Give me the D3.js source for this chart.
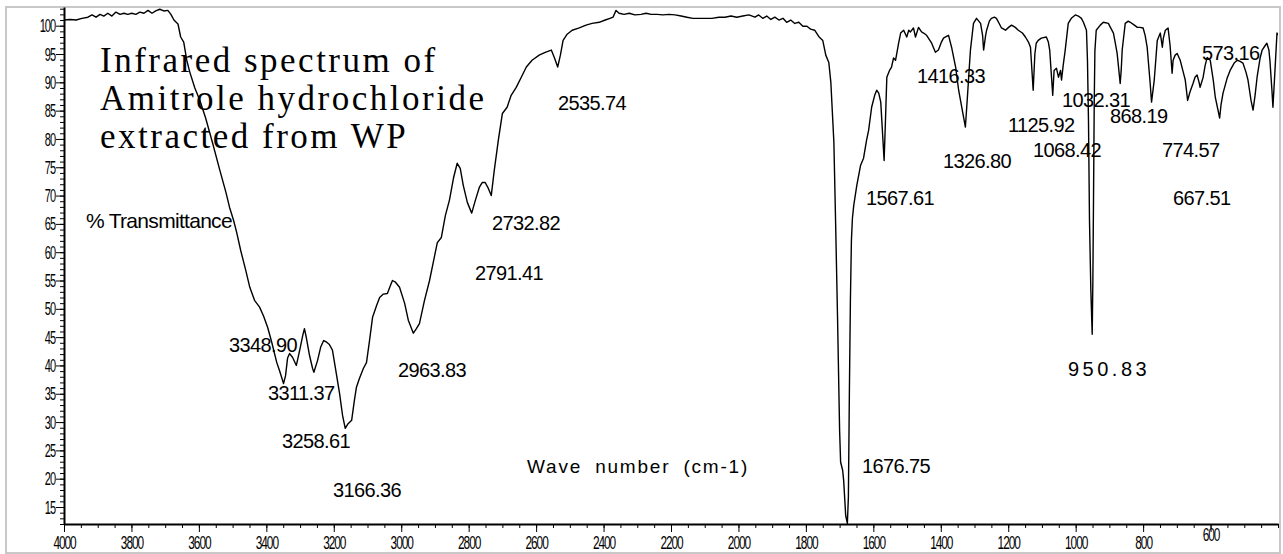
<!DOCTYPE html>
<html>
<head>
<meta charset="utf-8">
<title>Infrared spectrum of Amitrole hydrochloride</title>
<script src="https://d3js.org/d3.v7.min.js"></script>
<style>
    body { margin: 0; background: #fff; }
    svg text { font-family: "Liberation Sans", Arial, sans-serif; fill: #000; }
</style>
</head>
<body>
<svg id="chart" width="1283" height="554"></svg>
<script>
    // spectrum: [wavenumber cm-1, %T]
    const spectrumHigh = [
        [4000,101.0],[3982,101.1],[3964,101.0],[3947,101.3],[3929,101.5],[3917,101.9],[3905,101.5],[3893,102.0],
        [3882,101.7],[3870,102.2],[3858,101.7],[3846,102.4],[3834,102.0],[3822,102.2],[3811,102.0],[3799,102.2],
        [3787,102.0],[3775,102.4],[3763,102.2],[3751,102.7],[3739,102.2],[3728,102.6],[3716,102.9],[3704,102.6],
        [3692,102.7],[3683,102.0],[3674,101.0],[3662,100.3],[3654,98.0],[3645,97.1],[3636,93.9],[3627,91.8],
        [3612,89.0],[3597,86.8],[3580,83.7],[3559,79.2],[3538,74.5],[3520,70.6],[3509,67.9],[3497,65.6],
        [3488,63.5],[3476,60.3],[3461,56.8],[3449,53.8],[3435,51.5],[3420,50.3],[3408,48.7],[3396,46.7],
        [3384,44.1],[3369,40.5],[3361,39.1],[3349,36.8],[3343,38.2],[3337,41.3],[3331,42.1],[3322,41.4],
        [3311,40.0],[3301,42.7],[3292,45.3],[3287,46.5],[3281,44.8],[3272,41.8],[3263,39.5],[3259,38.8],
        [3248,40.9],[3239,43.2],[3230,44.4],[3221,44.1],[3213,43.7],[3204,42.7],[3195,39.5],[3183,35.1],
        [3174,31.2],[3166,28.9],[3159,29.6],[3147,30.3],[3139,33.8],[3133,36.1],[3124,37.7],[3112,39.5],
        [3103,40.5],[3094,44.4],[3085,48.5],[3073,50.6],[3064,52.0],[3053,52.6],[3041,52.7],[3032,54.1],
        [3026,55.0],[3017,54.7],[3005,53.8],[2990,51.0],[2979,48.0],[2964,45.7],[2955,46.5],[2946,47.4],
        [2931,51.5],[2916,55.0],[2905,58.2],[2893,61.7],[2881,62.6],[2869,66.5],[2857,69.2],[2845,73.1],
        [2834,75.7],[2825,74.8],[2816,71.8],[2804,68.8],[2791,66.9],[2780,69.2],[2768,71.5],[2760,72.3],
        [2751,72.3],[2742,71.3],[2733,70.0],[2724,74.5],[2712,79.8],[2700,84.5],[2686,85.6],[2674,87.7],
        [2659,89.1],[2644,90.9],[2629,92.7],[2612,93.9],[2591,94.8],[2573,95.3],[2555,95.7],[2546,94.4],
        [2536,92.7],[2528,94.8],[2520,97.4],[2508,98.5],[2493,99.2],[2472,99.6],[2452,100.1],[2434,100.4],
        [2413,100.6]
    ];
    const spectrumMid = [
        [2395,101.0],[2381,101.3],[2372,101.5],[2363,102.7],[2354,102.2],[2339,102.0],[2324,102.2],[2307,101.9],
        [2289,102.0],[2274,102.2],[2259,102.0],[2241,102.0],[2224,101.9],[2206,102.0],[2188,101.9],[2170,101.7],
        [2153,101.5],[2135,101.3],[2117,101.3],[2099,101.3],[2079,101.3],[2058,101.5],[2040,101.5],[2022,101.7],
        [2005,101.5],[1987,101.7],[1969,101.9],[1951,101.5],[1940,101.9],[1928,101.3],[1916,101.7],[1904,101.1],
        [1892,101.5],[1880,101.0],[1868,101.3],[1857,100.6],[1845,101.0],[1833,100.4],[1821,100.6],[1809,99.9],
        [1797,99.9],[1786,99.4],[1774,99.2],[1762,98.1],[1750,97.4],[1741,94.8],[1732,93.5],[1726,90.0],
        [1717,79.4],[1712,65.6],[1706,48.0],[1700,28.5],[1697,22.9],[1691,21.5],[1688,19.7],[1682,13.5],
        [1677,12.1],[1674,16.7],[1671,35.4],[1668,51.5],[1665,62.1],[1662,66.0],[1658,68.3],[1649,71.8],
        [1638,75.3],[1629,76.6],[1620,79.8],[1614,81.5],[1605,85.6],[1596,87.7],[1590,88.6],[1584,88.1],
        [1578,86.5],[1568,76.2],[1564,83.3],[1560,90.9],[1552,92.1],[1546,92.7],[1540,94.3],[1534,93.9],
        [1525,96.9],[1519,98.7],[1510,99.2],[1501,98.0],[1495,99.2],[1490,98.9],[1481,99.6],[1475,98.0],
        [1466,99.7],[1457,98.9],[1451,98.7],[1442,98.3],[1427,96.9],[1416,95.3],[1407,95.7]
    ];
    const spectrumLow = [
        [1398,97.1],[1392,97.8],[1383,98.1],[1377,98.3],[1368,96.2],[1356,92.7],[1347,88.6],[1335,84.7],
        [1327,82.1],[1321,87.4],[1316,92.1],[1312,95.7],[1303,100.4],[1294,101.3],[1282,100.4],[1276,98.3],
        [1273,95.7],[1267,98.3],[1264,99.2],[1256,100.8],[1250,101.3],[1241,101.5],[1235,101.3],[1226,100.3],
        [1220,99.6],[1208,99.2],[1199,99.7],[1190,100.1],[1179,99.7],[1170,99.2],[1158,98.7],[1149,98.0],
        [1140,97.1],[1134,96.2],[1126,88.6],[1121,95.0],[1117,96.9],[1111,97.4],[1102,97.8],[1087,98.0],
        [1081,97.1],[1077,95.7],[1068,87.7],[1064,92.1],[1057,92.5],[1051,90.9],[1045,92.1],[1042,90.4],
        [1037,93.0],[1031,95.7],[1022,100.4],[1013,101.3],[1001,101.9],[992,101.7],[983,101.3],[977,100.6],
        [968,99.2],[965,93.9],[962,83.3],[959,65.6],[955,53.3],[951,45.5],[949,55.0],[947,70.0],
        [945,86.0],[943,95.5],[939,99.2],[927,100.1],[918,100.6],[903,100.4],[897,99.7],[888,98.7],
        [883,97.1],[877,95.1],[868,89.8],[865,92.1],[862,95.7],[853,100.4],[844,100.8],[838,100.6],
        [826,100.1],[817,99.7],[809,99.7],[800,99.6],[794,98.3],[788,96.2],[779,89.8],[775,86.5],
        [767,90.4],[764,92.7],[758,97.4],[749,98.7],[743,96.2],[740,97.8],[734,99.2],[726,99.6],
        [720,96.5],[714,91.6],[711,93.9],[705,94.8],[699,95.1],[690,93.9],[681,91.8],[675,90.4],
        [668,86.8],[661,88.3],[652,89.8],[646,90.9],[640,91.3],[634,90.0],[631,89.1],[622,90.9],
        [616,93.0],[610,94.4],[601,93.9],[592,90.4],[586,87.4],[573,83.7],[569,86.0],[563,88.1],
        [551,90.7],[542,92.1],[530,93.4],[521,93.9],[512,93.7],[504,93.4],[495,91.8],[489,90.4],
        [480,86.8],[474,85.1],[468,87.7],[462,90.9],[453,94.3],[447,95.7],[438,96.5],[433,96.9],
        [427,95.7],[424,93.9],[418,88.6],[415,85.6],[409,92.1],[403,98.7],[400,98.3]
    ];

    const peakLabels = ["3348.90", "3311.37", "3258.61", "3166.36", "2963.83", "2791.41", "2732.82", "2535.74",
        "1676.75", "1567.61", "1416.33", "1326.80", "1125.92", "1068.42", "1032.31", "950.83",
        "868.19", "774.57", "667.51", "573.16"];
    const xMajorTicks = d3.range(4000, 599, -200);
    const xMinorTicks = d3.range(4000, 399, -50);
    const yMajorTicks = d3.range(15, 101, 5);
    const yMinorTicks = d3.range(12, 104, 1);
    const titleLines = ["Infrared spectrum of", "Amitrole hydrochloride", "extracted from WP"];

    // where each peak label sits (left x, baseline y)
    const labelPos = [[229,352],[268,400],[282,448],[333,497],[398,377],[475,280],[492,230],[558,110],
        [862,473],[866,205],[917,83],[943,168],[1008,132],[1033,157],[1062,107],[1068,376],
        [1110,123],[1162,157],[1173,205],[1202,60]];

    const svg = d3.select('#chart');
    const plotLeft = 64, plotRight = 1278, plotTop = 7, plotBottom = 524;

    // light grey frame
    svg.append('rect')
        .attr('x', 6).attr('y', 7).attr('width', 1274).attr('height', 546)
        .attr('fill', 'none').attr('stroke', '#c8c8c8').attr('stroke-width', 2);

    const x = d3.scaleLinear().domain([4000, 400]).range([plotLeft, plotRight]);
    const y = d3.scaleLinear().domain([12, 103.3]).range([plotBottom, plotTop]);

    // y axis
    svg.append('g')
        .attr('transform', `translate(${plotLeft},0)`)
        .call(d3.axisLeft(y).tickValues(yMinorTicks).tickSize(4).tickSizeOuter(0).tickFormat(''))
        .call(g => g.select('.domain').remove());
    const yAxis = svg.append('g')
        .attr('transform', `translate(${plotLeft},0)`)
        .call(d3.axisLeft(y).tickValues(yMajorTicks).tickSize(8).tickSizeOuter(0));
    yAxis.select('.domain').attr('stroke-width', 2);
    yAxis.selectAll('text')
        .attr('x', -9 / 0.58)
        .attr('transform', 'scale(0.58,1)')
        .style('font-size', '19px')
        .style('letter-spacing', '-1.8px');

    // x axis
    svg.append('g')
        .attr('transform', `translate(0,${plotBottom})`)
        .call(d3.axisBottom(x).tickValues(xMinorTicks).tickSize(4).tickSizeOuter(0).tickFormat(''))
        .call(g => g.select('.domain').remove());
    const xAxis = svg.append('g')
        .attr('transform', `translate(0,${plotBottom})`)
        .call(d3.axisBottom(x).tickValues(xMajorTicks).tickSize(8).tickSizeOuter(0).tickFormat(d3.format('d')));
    xAxis.select('.domain').attr('stroke-width', 2);
    xAxis.selectAll('text')
        .attr('y', d => d === 600 ? 17 : 25)
        .attr('dy', null)
        .attr('transform', 'scale(0.66,1)')
        .style('font-size', '18px')
        .style('letter-spacing', '-1.6px');
    svg.selectAll('.tick line').attr('stroke', '#000');

    // spectrum
    svg.append('clipPath').attr('id', 'plot-clip')
        .append('rect').attr('x', plotLeft).attr('y', plotTop)
        .attr('width', plotRight - plotLeft).attr('height', plotBottom - plotTop + 1);

    const spectrum = spectrumHigh.concat(spectrumMid, spectrumLow);
    const line = d3.line().x(d => x(d[0])).y(d => y(d[1]));
    svg.append('path')
        .datum(spectrum)
        .attr('clip-path', 'url(#plot-clip)')
        .attr('fill', 'none')
        .attr('stroke', '#000')
        .attr('stroke-width', 1.4)
        .attr('stroke-linejoin', 'round')
        .attr('d', line);

    // title
    svg.append('g').selectAll('text')
        .data(titleLines)
        .enter()
        .append('text')
        .attr('x', 100)
        .attr('y', (d, i) => 72 + i * 38)
        .style('font-family', '"Liberation Serif", "Times New Roman", serif')
        .style('font-size', '35px')
        .style('letter-spacing', '2.5px')
        .text(d => d);

    svg.append('text')
        .attr('x', 86).attr('y', 228)
        .style('font-size', '21px')
        .style('letter-spacing', '-0.7px')
        .text('% Transmittance');

    svg.append('text')
        .attr('x', 527).attr('y', 473)
        .style('font-size', '19px')
        .style('letter-spacing', '1.8px')
        .style('word-spacing', '6px')
        .text('Wave number (cm-1)');

    // peak labels
    svg.append('g').selectAll('text')
        .data(peakLabels)
        .enter()
        .append('text')
        .attr('x', (d, i) => labelPos[i][0])
        .attr('y', (d, i) => labelPos[i][1])
        .style('font-size', '20px')
        .style('letter-spacing', d => d === '950.83' ? '3.5px' : '-0.6px')
        .text(d => d);
</script>
</body>
</html>
